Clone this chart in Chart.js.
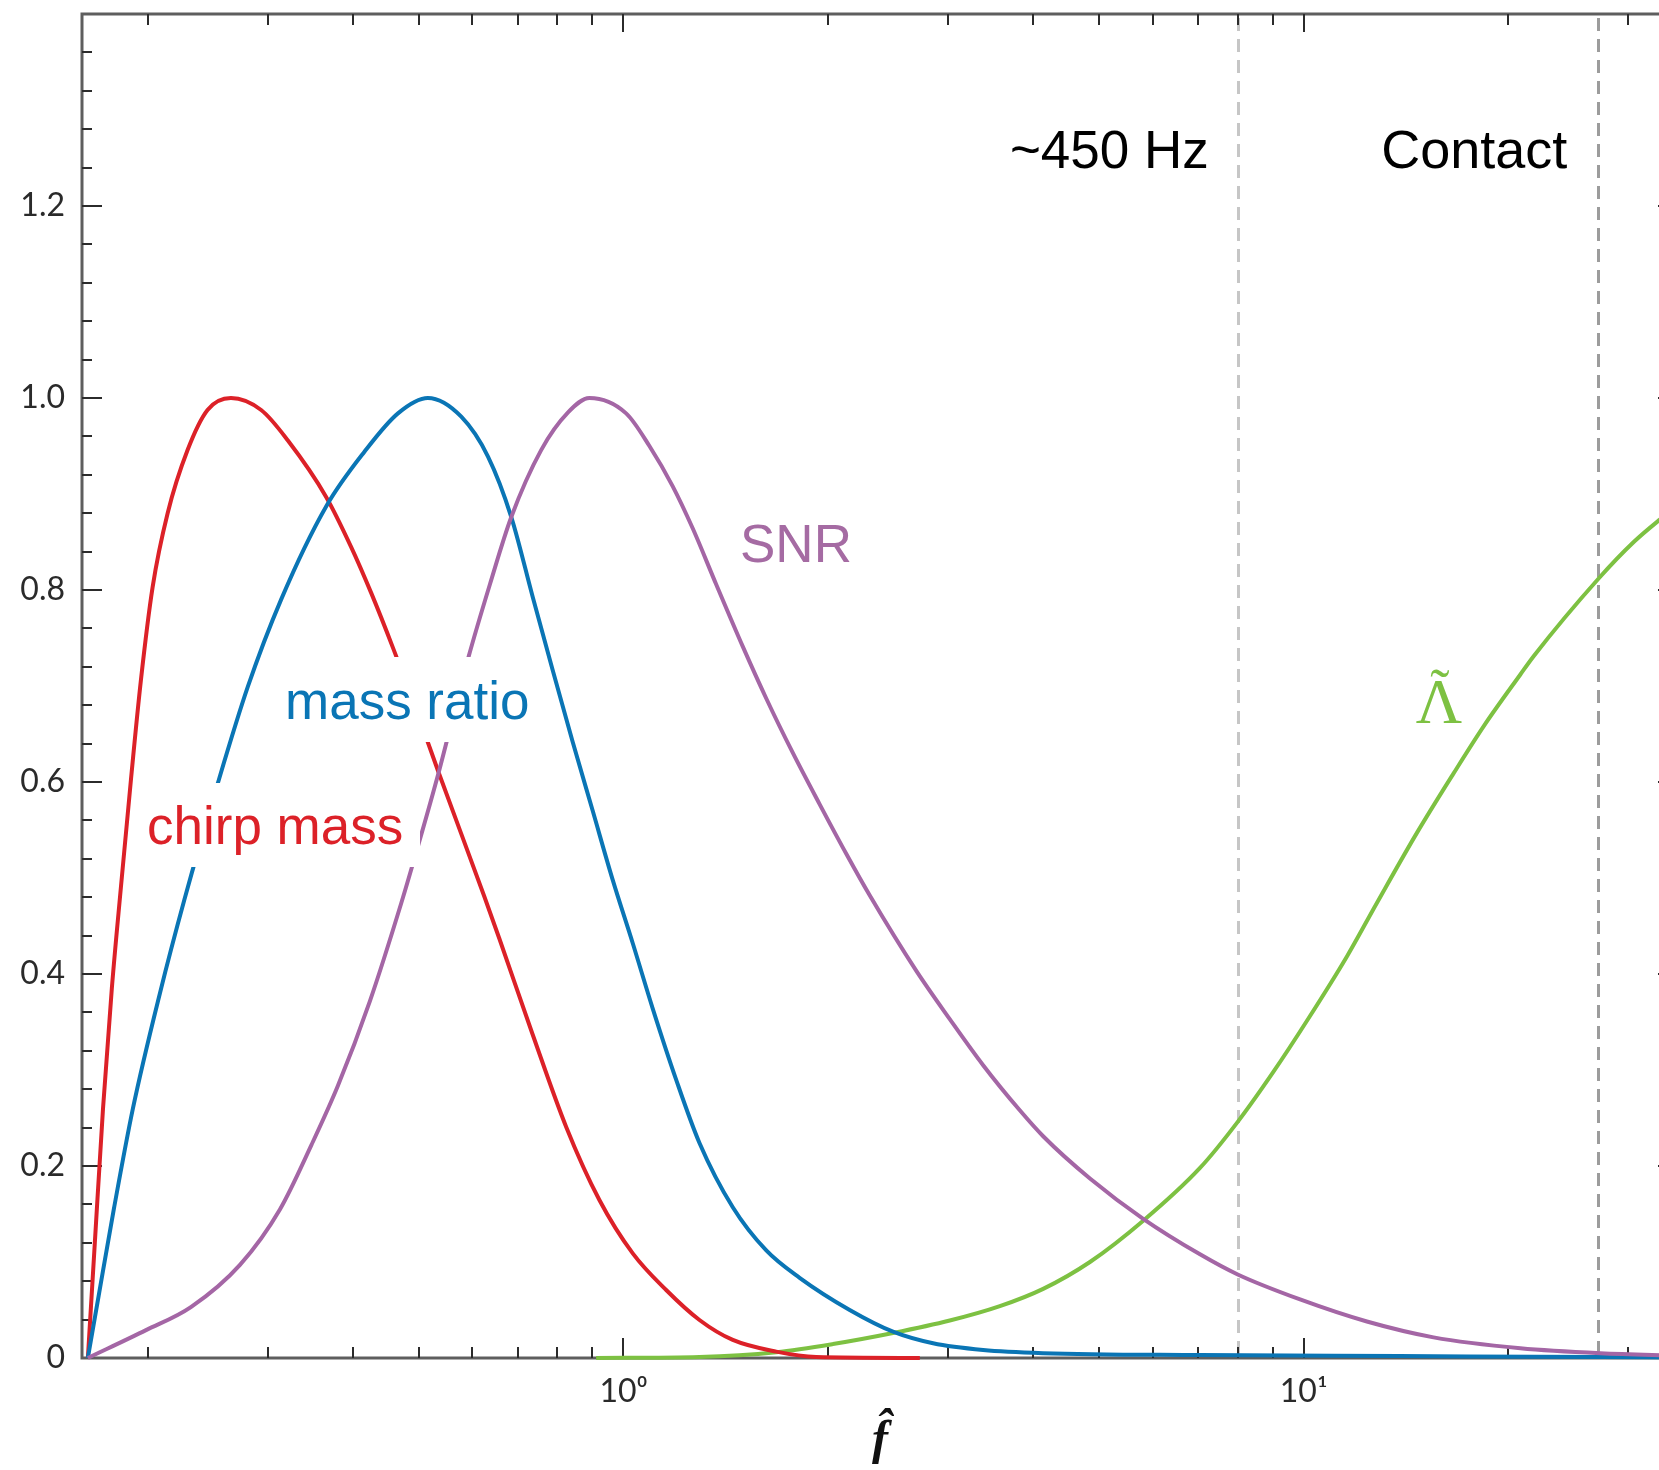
<!DOCTYPE html>
<html>
<head>
<meta charset="utf-8">
<title>Parameter sensitivity vs f-hat</title>
<script src="https://cdn.jsdelivr.net/npm/chart.js@4.4.1/dist/chart.umd.min.js"></script>
<style>
  html, body { margin: 0; padding: 0; background: #fff; overflow: hidden; }
  canvas { display: block; }
</style>
</head>
<body>
<canvas id="myChart" width="1700" height="1470"></canvas>
<script>
// axis ranges and ticks
const xMin = 0.16, xMax = 35.5;
const yMin = 0, yMax = 1.4;
const xMajorTicks = [1, 10];
const xTickLabels = ["10\u2070", "10\u00B9"];
const xMinorTicks = [0.2, 0.3, 0.4, 0.5, 0.6, 0.7, 0.8, 0.9, 2, 3, 4, 5, 6, 7, 8, 9, 20, 30];
const yTickValues = [0, 0.2, 0.4, 0.6, 0.8, 1.0, 1.2];
const yTickLabels = ["0", "0.2", "0.4", "0.6", "0.8", "1.0", "1.2"];

// vertical markers
const markerValues = [8.0, 27.1];
const markerLabels = ["~450 Hz", "Contact"];

// chirp mass
const chirpX = [0.1632, 0.1671, 0.1718, 0.177, 0.1825, 0.1888, 0.1953, 0.2032, 0.2138, 0.2288, 0.2447, 0.2649,
  0.2934, 0.321, 0.3656, 0.3978, 0.4258, 0.4583, 0.5095, 0.5337, 0.6243, 0.657, 0.7355, 0.8236, 0.9219,
  1.0321, 1.1557, 1.2936, 1.448, 1.6776, 1.9205, 2.7271];
const chirpY = [0, 0.12, 0.26, 0.385, 0.49, 0.602, 0.706, 0.803, 0.88, 0.946, 0.9875, 1.0,
  0.9875, 0.956, 0.897, 0.845, 0.797, 0.74, 0.652, 0.612, 0.481, 0.437, 0.337, 0.241, 0.1646,
  0.109, 0.0708, 0.0396, 0.0188, 0.0066, 0.001, 0];

// mass ratio
const ratioX = [0.1632, 0.1693, 0.1782, 0.1901, 0.2083, 0.2262, 0.2532, 0.2804, 0.3139, 0.3656, 0.4162,
  0.4662, 0.5159, 0.5776, 0.6323, 0.6842, 0.7355, 0.787, 0.8421, 0.9013, 0.9644, 1.0321, 1.1043, 1.1953,
  1.2936, 1.448, 1.6218, 1.8155, 2.1508, 2.4904, 2.8522, 3.379, 4.14, 7.04, 13.8, 27.3, 35.5];
const ratioY = [0, 0.065, 0.155, 0.26, 0.38, 0.477, 0.598, 0.699, 0.79, 0.887, 0.944,
  0.984, 1.0, 0.9805, 0.939, 0.876, 0.793, 0.7167, 0.642, 0.57, 0.498, 0.432, 0.364, 0.29,
  0.224, 0.157, 0.112, 0.0835, 0.05, 0.0274, 0.0153, 0.0083, 0.005, 0.003, 0.002, 0.001, 0.0005];

// SNR
const snrX = [0.1632, 0.1987, 0.2313, 0.2731, 0.3128, 0.3479, 0.3807, 0.4236, 0.4715, 0.5044, 0.5337, 0.5908,
  0.6365, 0.6842, 0.7573, 0.8291, 0.8913, 1.0092, 1.092, 1.1817, 1.2647, 1.3686, 1.4981, 1.6218, 1.7752,
  1.9424, 2.127, 2.3014, 2.6966, 3.0181, 3.379, 3.8254, 4.14, 4.8505, 5.8088, 7.0401, 7.9983,
  9.8786, 12.385, 15.521, 20.822, 27.3, 35.5];
const snrY = [0, 0.029, 0.053, 0.097, 0.155, 0.222, 0.284, 0.371, 0.474, 0.545, 0.607, 0.728,
  0.806, 0.876, 0.946, 0.985, 1.0, 0.984, 0.95, 0.908, 0.864, 0.806, 0.741, 0.687, 0.63,
  0.577, 0.525, 0.482, 0.403, 0.353, 0.305, 0.258, 0.231, 0.187, 0.145, 0.108, 0.087,
  0.061, 0.038, 0.0215, 0.0102, 0.005, 0.0025];

// Lambda tilde
const lambdaX = [0.9117, 1.2936, 1.6776, 2.0324, 2.4904, 3.0181, 3.5757, 4.14, 4.8505, 5.8088, 7.0401, 7.9983,
  9.0236, 10.106, 11.57, 12.811, 14.67, 16.608, 18.386, 20.822, 21.777, 27.137, 30.557, 33.34, 35.5];
const lambdaY = [0, 0.001, 0.006, 0.0145, 0.026, 0.039, 0.054, 0.072, 0.1, 0.143, 0.198, 0.246,
  0.298, 0.351, 0.418, 0.474, 0.547, 0.609, 0.658, 0.712, 0.731, 0.812, 0.85, 0.873, 0.888];

const RED = "#dc2128";
const BLUE = "#0a75b5";
const PURPLE = "#a466a5";
const GREEN = "#7dc142";

function series(label, xs, ys, color) {
  return {
    label: label,
    data: xs.map((x, i) => ({ x: x, y: ys[i] })),
    borderColor: color,
    borderWidth: 4,
    pointRadius: 0,
    fill: false,
    cubicInterpolationMode: "monotone",
    clip: false,
  };
}

// frame, inward ticks, dashed markers and text labels
const decorations = {
  id: "decorations",
  beforeDatasetsDraw(chart) {
    const { ctx, chartArea: a, scales } = chart;
    const xs = scales.x, ys = scales.y;
    ctx.save();

    // dashed markers
    const markerColors = ["#c6c6c6", "#9c9c9c"];
    markerValues.forEach((v, i) => {
      const px = Math.round(xs.getPixelForValue(v)) + 0.5;
      ctx.strokeStyle = markerColors[i];
      ctx.lineWidth = 3;
      ctx.setLineDash([13, 8]);
      ctx.beginPath();
      ctx.moveTo(px, a.top + 4);
      ctx.lineTo(px, a.bottom);
      ctx.stroke();
    });
    ctx.setLineDash([]);

    // frame
    ctx.strokeStyle = "#5e5e5e";
    ctx.lineWidth = 3;
    ctx.strokeRect(a.left, a.top, a.right - a.left, a.bottom - a.top);

    // ticks
    ctx.strokeStyle = "#2b2b2b";
    ctx.lineWidth = 2;
    const seg = (x0, y0, x1, y1) => {
      ctx.beginPath();
      ctx.moveTo(x0, y0);
      ctx.lineTo(x1, y1);
      ctx.stroke();
    };
    for (let k = 1; k < 35; k++) {
      const py = Math.round(ys.getPixelForValue(k * 0.04));
      const len = k % 5 === 0 ? 20 : 10;
      seg(a.left, py, a.left + len, py);
      seg(a.right, py, a.right - len, py);
    }
    xMinorTicks.forEach((v) => {
      const px = Math.round(xs.getPixelForValue(v));
      seg(px, a.bottom, px, a.bottom - 11);
      seg(px, a.top, px, a.top + 11);
    });
    xMajorTicks.forEach((v) => {
      const px = Math.round(xs.getPixelForValue(v));
      seg(px, a.bottom, px, a.bottom - 20);
      seg(px, a.top, px, a.top + 18);
    });
    ctx.restore();
  },
  afterDatasetsDraw(chart) {
    const { ctx, scales } = chart;
    const xs = scales.x;
    ctx.save();
    const sans = "53px 'Liberation Sans', Arial, sans-serif";

    // marker labels, right aligned next to their lines
    ctx.font = sans;
    ctx.fillStyle = "#000";
    ctx.textAlign = "right";
    ctx.textBaseline = "alphabetic";
    ctx.fillText(markerLabels[0], xs.getPixelForValue(markerValues[0]) - 29, 168);
    ctx.font = "54px 'Liberation Sans', Arial, sans-serif";
    ctx.fillText(markerLabels[1], xs.getPixelForValue(markerValues[1]) - 31, 168);
    ctx.font = sans;

    // curve labels
    ctx.textAlign = "left";
    ctx.fillStyle = "#a56ba3";
    ctx.fillText("SNR", 740, 562);

    ctx.fillStyle = "#fff";
    ctx.fillRect(275, 657, 265, 85);
    ctx.fillStyle = BLUE;
    ctx.fillText("mass ratio", 285, 719);

    ctx.fillStyle = "#fff";
    ctx.fillRect(135, 783, 285, 84);
    ctx.fillStyle = RED;
    ctx.fillText("chirp mass", 147, 844);

    // Lambda with tilde
    ctx.font = "64px 'Liberation Serif', 'Times New Roman', serif";
    ctx.fillStyle = GREEN;
    ctx.textAlign = "center";
    ctx.fillText("\u039B", 1439, 723);
    ctx.font = "58px 'Liberation Serif', 'Times New Roman', serif";
    ctx.fillText("\u02DC", 1440, 708);
    ctx.restore();
  },
};

const ctx = document.getElementById("myChart");

new Chart(ctx, {
  type: "line",
  data: {
    datasets: [
      series("SNR", snrX, snrY, PURPLE),
      series("mass ratio", ratioX, ratioY, BLUE),
      series("chirp mass", chirpX, chirpY, RED),
      series("Lambda", lambdaX, lambdaY, GREEN),
    ],
  },
  options: {
    responsive: false,
    animation: false,
    devicePixelRatio: 1,
    layout: {
      padding: { top: 14, right: 22, left: 0, bottom: 0 },
    },
    plugins: {
      legend: { display: false },
      tooltip: { enabled: false },
    },
    scales: {
      x: {
        type: "logarithmic",
        min: xMin,
        max: xMax,
        border: { display: false },
        grid: { display: false, drawTicks: false },
        afterBuildTicks: (s) => {
          s.ticks = xMajorTicks.map((v) => ({ value: v }));
        },
        afterFit: (s) => {
          s.height = 112;
          s.paddingLeft = 0;
          s.paddingRight = 0;
        },
        ticks: {
          autoSkip: false,
          maxRotation: 0,
          padding: 14,
          color: "#2a2a2a",
          font: { family: "Lato, 'Liberation Sans', sans-serif", size: 32 },
          callback: (value, index) => xTickLabels[index],
        },
        title: {
          display: true,
          text: "f\u0302",
          color: "#111",
          padding: { top: 0, bottom: 0 },
          font: { family: "'Liberation Serif', 'DejaVu Serif', serif", size: 48, style: "italic", weight: "bold" },
        },
      },
      y: {
        min: yMin,
        max: yMax,
        border: { display: false },
        grid: { display: false, drawTicks: false },
        afterBuildTicks: (s) => {
          s.ticks = yTickValues.map((v) => ({ value: v }));
        },
        afterFit: (s) => {
          s.width = 82;
          s.paddingTop = 0;
          s.paddingBottom = 0;
        },
        ticks: {
          autoSkip: false,
          padding: 17,
          color: "#2a2a2a",
          font: { family: "Lato, 'Liberation Sans', sans-serif", size: 32 },
          callback: (value, index) => yTickLabels[index],
        },
      },
    },
  },
  plugins: [decorations],
});
</script>
</body>
</html>
